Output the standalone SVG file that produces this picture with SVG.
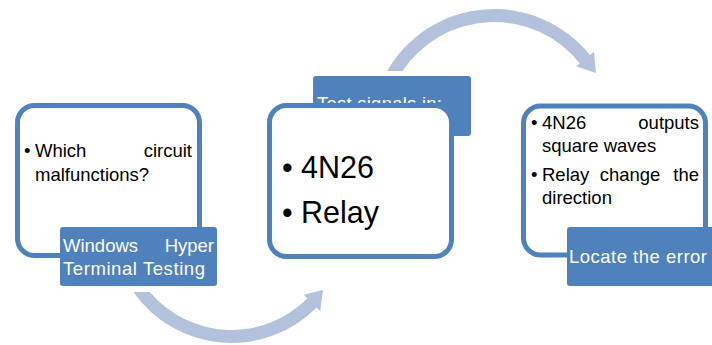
<svg xmlns="http://www.w3.org/2000/svg" width="712" height="345" viewBox="0 0 712 345">
<style>
.frame{fill:#fff;stroke:#4F81BD;stroke-width:5}
.lab{fill:#4F81BD}
.arr{fill:#B2C2DD}
.t{font-family:"Liberation Sans",Arial,sans-serif;font-size:18.5px;fill:#000}
.w{font-family:"Liberation Sans",Arial,sans-serif;font-size:18.5px;fill:#fff}
.big{font-family:"Liberation Sans",Arial,sans-serif;font-size:30.5px;fill:#000}
</style>
<g id="connectors">
<path class="arr" d="M387.2 71 A123 123 0 0 1 590 55.1 L594 51.7 L596 73 L576 66.3 L579.8 63.2 A110 110 0 0 0 402.5 71 Z"/>
<path class="arr" d="M133.4 292 A119.8 119.8 0 0 0 316.7 307.4 L320.2 311.2 L323 290 L303.8 294.8 L307.4 298.3 A106.8 106.8 0 0 1 149.8 292 Z"/>
</g>
<g id="node1">
<rect class="frame" x="17.5" y="105.5" width="182" height="150" rx="17"/>
<text class="t" x="24" y="157">•</text>
<text class="t" x="35" y="157">Which</text>
<text class="t" x="192" y="157" text-anchor="end">circuit</text>
<text class="t" x="35" y="181">malfunctions?</text>
<rect class="lab" x="60" y="227" width="157" height="59" rx="3"/>
<text class="w" x="63" y="252">Windows</text>
<text class="w" x="214" y="252" text-anchor="end">Hyper</text>
<text class="w" x="63" y="275" textLength="142">Terminal Testing</text>
</g>
<g id="node2">
<rect class="lab" x="313" y="76" width="158" height="60" rx="3"/>
<text class="w" x="317" y="110" textLength="125">Test signals in:</text>
<rect class="frame" x="269.5" y="105.5" width="182" height="151" rx="17"/>
<text class="big" x="282" y="178">•</text>
<text class="big" x="301" y="178">4N26</text>
<text class="big" x="282" y="223">•</text>
<text class="big" x="301" y="223">Relay</text>
</g>
<g id="node3">
<rect class="frame" x="523.5" y="106" width="182" height="149" rx="17"/>
<text class="t" x="531" y="129">•</text>
<text class="t" x="542" y="129">4N26</text>
<text class="t" x="699" y="129" text-anchor="end">outputs</text>
<text class="t" x="542" y="152">square waves</text>
<text class="t" x="531" y="181">•</text>
<text class="t" x="542" y="181">Relay</text>
<text class="t" x="630" y="181" text-anchor="middle">change</text>
<text class="t" x="699" y="181" text-anchor="end">the</text>
<text class="t" x="542" y="204">direction</text>
<rect class="lab" x="567" y="227" width="157" height="59" rx="3"/>
<text class="w" x="569" y="263" textLength="138">Locate the error</text>
</g>
</svg>
